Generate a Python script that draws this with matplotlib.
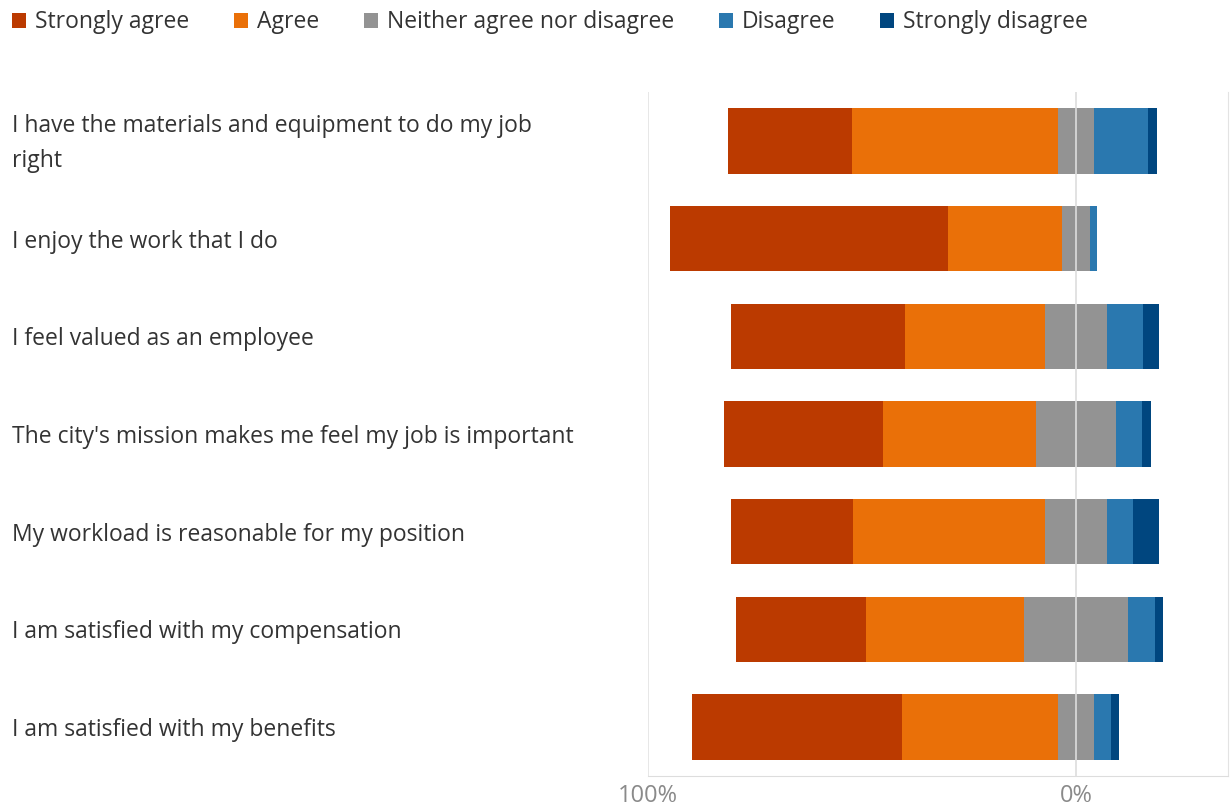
import matplotlib.pyplot as plt
import numpy as np
from matplotlib.patches import Patch

plt.rcParams['font.family'] = ['Open Sans', 'DejaVu Sans']

# survey statements, top to bottom
questions = [
    "I have the materials and equipment to do my job\nright",
    "I enjoy the work that I do",
    "I feel valued as an employee",
    "The city's mission makes me feel my job is important",
    "My workload is reasonable for my position",
    "I am satisfied with my compensation",
    "I am satisfied with my benefits",
]

# percent of responses
strongly_agree = [28.9, 65.0, 40.7, 37.2, 28.5, 30.5, 49.0]
agree = [48.1, 26.6, 32.7, 35.7, 44.9, 36.8, 36.6]
neutral = [8.4, 6.4, 14.3, 18.8, 14.3, 24.4, 8.3]
disagree = [12.5, 1.8, 8.4, 6.1, 6.2, 6.3, 4.0]
strongly_disagree = [2.1, 0.0, 3.9, 2.1, 6.0, 1.7, 2.0]

labels = ["Strongly agree", "Agree", "Neither agree nor disagree",
          "Disagree", "Strongly disagree"]
colors = ["#BB3A00", "#EA7008", "#939393", "#2A78AF", "#00467F"]

sa = np.array(strongly_agree)
a = np.array(agree)
n = np.array(neutral)
d = np.array(disagree)
sd = np.array(strongly_disagree)

y = np.arange(len(questions))
h = 0.67

fig = plt.figure(figsize=(12.3, 8.07), dpi=100)
ax = fig.add_axes([648 / 1230, 1 - 776 / 807, 580 / 1230, 684 / 807])

# agreement goes left, neutral is split around zero
left_neutral = -n / 2
ax.barh(y, -a, left=left_neutral, height=h, color=colors[1], zorder=2)
ax.barh(y, -sa, left=left_neutral - a, height=h, color=colors[0], zorder=2)
ax.barh(y, n, left=left_neutral, height=h, color=colors[2], zorder=2)
ax.barh(y, d, left=n / 2, height=h, color=colors[3], zorder=2)
ax.barh(y, sd, left=n / 2 + d, height=h, color=colors[4], zorder=2)

ax.axvline(0, color="#dddddd", lw=1.2, zorder=3)
ax.axvline(-100, color="#e3e3e3", lw=1.2, zorder=1)

ax.set_xlim(-100, 35.5)
ax.set_ylim(len(questions) - 0.5, -0.5)
ax.set_xticks([-100, 0])
ax.set_xticklabels(["100%", "0%"], color="#8a8a8a", fontsize=17)
ax.tick_params(axis="x", length=0, pad=6)
ax.set_yticks([])

for s in ["top", "left"]:
    ax.spines[s].set_visible(False)
ax.spines["bottom"].set_color("#dddddd")
ax.spines["right"].set_color("#e3e3e3")

# question labels at the left edge of the figure
for yi, q in zip(y, questions):
    ax.annotate(q, xy=(12, yi), xycoords=("figure pixels", "data"),
                xytext=(0, -3), textcoords="offset pixels",
                ha="left", va="center", fontsize=16.5, color="#333333",
                linespacing=1.6, annotation_clip=False)

handles = [Patch(facecolor=c, edgecolor="none") for c in colors]
fig.legend(handles, labels, loc="upper left", bbox_to_anchor=(-0.003, 1.007),
           ncol=5, frameon=False, fontsize=16.5, handlelength=0.6,
           handleheight=0.6, handletextpad=0.4, columnspacing=1.95,
           labelcolor="#333333", borderaxespad=0.3)

fig.savefig("out.png", dpi=100)
